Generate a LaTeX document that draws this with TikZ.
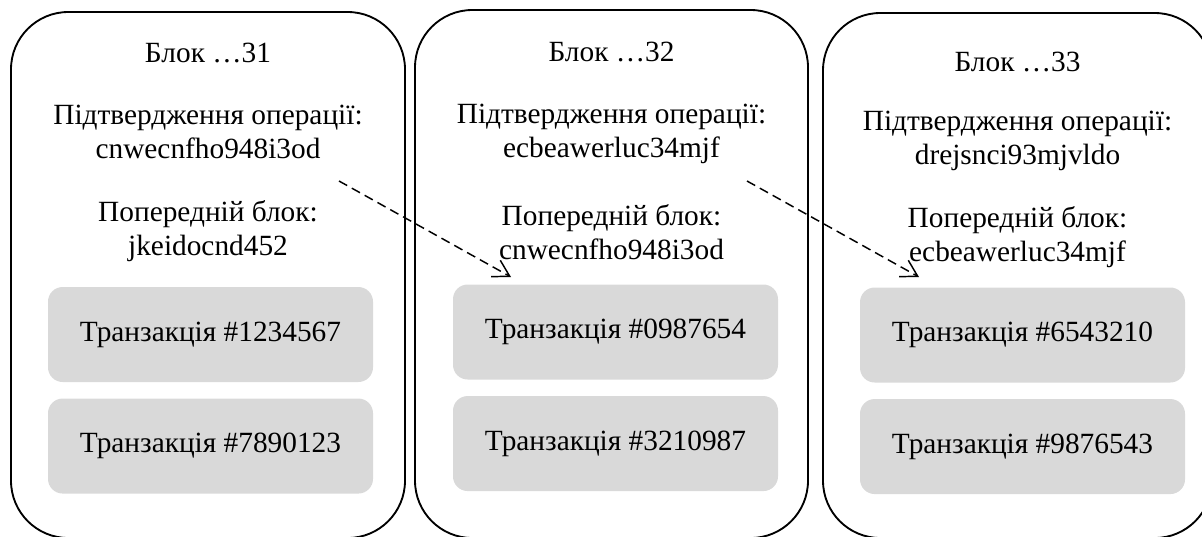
\documentclass[tikz,border=0pt]{standalone}
\usepackage{fontspec}
\setmainfont{Liberation Serif}
\usetikzlibrary{arrows.meta,positioning}
\definecolor{ink}{RGB}{0,0,0}
\definecolor{txfill}{RGB}{217,217,217}
\tikzset{
  block/.style={draw=ink,line width=1.4pt,rounded corners=43pt,inner sep=0pt},
  tx/.style={fill=txfill,rounded corners=11pt,inner sep=0pt,minimum width=243.75pt,
    minimum height=71.25pt,font=\fontsize{22}{22.5}\selectfont},
  lbl/.style={inner sep=0pt,align=center,anchor=base,font=\fontsize{22}{25}\selectfont},
  link/.style={-{Straight Barb[length=12pt,width=14pt]},line width=1.1pt,
    dash pattern=on 7pt off 4pt,ink},
}

\begin{document}
\begin{tikzpicture}[x=0.75pt,y=-0.75pt]
\useasboundingbox (0,0) rectangle (1202,536);
\clip (0,0) rectangle (1202,536);
% blocks
\node[block,minimum width=295.5pt,minimum height=394.5pt] (b31) at (208,275) {};
\node[block,minimum width=294.75pt,minimum height=396pt] (b32) at (611.5,274) {};
\node[block,minimum width=291.75pt,minimum height=393.75pt] (b33) at (1017.5,275.5) {};
% block 31
\node[lbl] (t31) at (208,62) {Блок …31};
\node[lbl] (c31) at (208,158) {Підтвердження операції:\\cnwecnfho948i3od};
\node[lbl] (p31) at (208,255) {Попередній блок:\\jkeidocnd452};
\node[tx] (x31a) at (210.5,334.5) {Транзакція \#1234567};
\node[tx,below=12pt of x31a] (x31b) {Транзакція \#7890123};
% block 32
\node[lbl] (t32) at (611.5,61) {Блок …32};
\node[lbl] (c32) at (611.5,157) {Підтвердження операції:\\ecbeawerluc34mjf};
\node[lbl] (p32) at (611.5,259) {Попередній блок:\\cnwecnfho948i3od};
\node[tx] (x32a) at (615.5,332) {Транзакція \#0987654};
\node[tx,below=12pt of x32a] (x32b) {Транзакція \#3210987};
% block 33
\node[lbl] (t33) at (1017.5,71) {Блок …33};
\node[lbl] (c33) at (1017.5,164) {Підтвердження операції:\\drejsnci93mjvldo};
\node[lbl] (p33) at (1017.5,261) {Попередній блок:\\ecbeawerluc34mjf};
\node[tx] (x33a) at (1022.5,335) {Транзакція \#6543210};
\node[tx,below=12pt of x33a] (x33b) {Транзакція \#9876543};
% hash links
\coordinate (h31) at (339,181);
\coordinate (h32) at (511,277);
\coordinate (g32) at (747,181);
\coordinate (g33) at (919,277);
\draw[link] (h31) -- (h32);
\draw[link] (g32) -- (g33);
\end{tikzpicture}
\end{document}
